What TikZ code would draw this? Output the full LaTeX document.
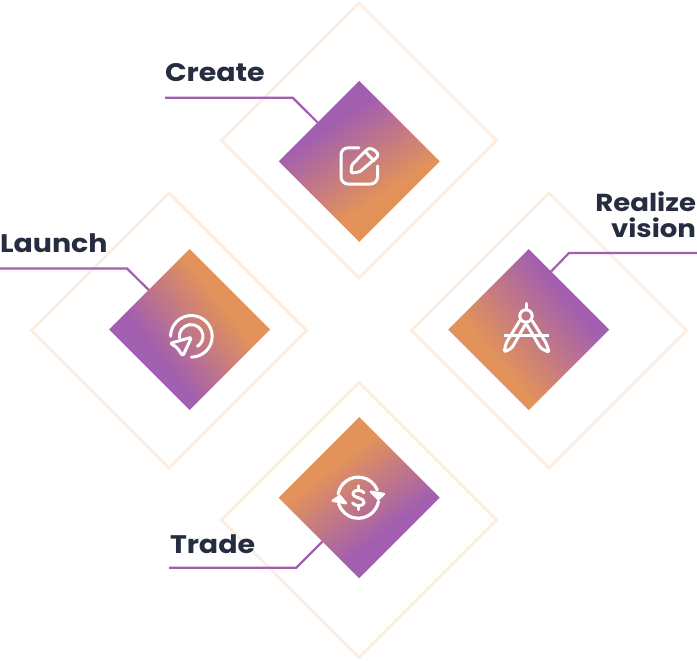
\documentclass[tikz,border=0pt]{standalone}
\usepackage{fontspec}
\setmainfont{Poppins}[FakeStretch=1.12]
\usetikzlibrary{shapes.geometric}
\definecolor{halo}{HTML}{FDEEE2}
\definecolor{plum}{HTML}{A25FAF}
\definecolor{amber}{HTML}{E39359}
\definecolor{ink}{HTML}{262D40}
\tikzset{
  x=1pt,y=1pt,
  outerdia/.style={diamond,shape aspect=1,draw=halo,line width=3pt,minimum width=275pt,minimum height=275pt,inner sep=0pt,outer sep=0pt},
  innerdia/.style={diamond,shape aspect=1,minimum width=161pt,minimum height=161pt,inner sep=0pt,outer sep=0pt},
  leader/.style={draw=plum,line width=2.2pt,line join=miter},
  labeltext/.style={text=ink,font=\fontsize{25.4}{26}\selectfont\bfseries,inner sep=0pt,outer sep=0pt},
  smalllabel/.style={labeltext,font=\fontsize{24.6}{26}\selectfont\bfseries},
  iconline/.style={draw=white,line width=3pt,line cap=round,line join=round},
}
% name, x, y (image), angle, top colour, bottom colour, low, high
\newcommand{\gradientdia}[8]{%
  \node[innerdia] (#1) at (#2,-#3) {};
  \begin{scope}
    \clip (#1.north) -- (#1.east) -- (#1.south) -- (#1.west) -- cycle;
    \begin{scope}[transform canvas={shift={(#2,-#3)},rotate=#4}]
      \fill[#6] (-160,-160) rectangle (160,#7+0.5);
      \fill[#5] (-160,#8-0.5) rectangle (160,160);
      \shade[top color=#5,bottom color=#6] (-160,#7) rectangle (160,#8);
    \end{scope}
  \end{scope}
}
\begin{document}
\begin{tikzpicture}
\useasboundingbox (0,0) rectangle (697,-661);
% outer frames
\node[outerdia] (haloCreate) at (359,-140.5) {};
\node[outerdia] (haloLaunch) at (169,-330.5) {};
\node[outerdia] (haloVision) at (549,-330.5) {};
\node[outerdia] (haloTrade) at (359,-520) {};
% gradient squares
\gradientdia{create}{359.2}{161.3}{33}{plum}{amber}{-42}{46}
\gradientdia{launch}{189.7}{329.5}{-52}{amber}{plum}{-40}{42}
\gradientdia{vision}{528.7}{329.7}{-50}{plum}{amber}{-45}{50}
\gradientdia{trade}{359.2}{497.7}{37}{amber}{plum}{-42}{42}
% leaders
\coordinate (createEnd) at (165,-97.7);
\coordinate (createBend) at (292.7,-97.7);
\coordinate (launchEnd) at (0,-268.5);
\coordinate (launchBend) at (127,-268.5);
\coordinate (visionEnd) at (697,-253);
\coordinate (visionBend) at (569,-253);
\coordinate (tradeEnd) at (169,-567.7);
\coordinate (tradeBend) at (296.3,-567.7);
\draw[leader] (createEnd) -- (createBend) -- (create.137);
\draw[leader] (launchEnd) -- (launchBend) -- (launch.136);
\draw[leader] (visionEnd) -- (visionBend) -- (vision.69);
\draw[leader] (tradeEnd) -- (tradeBend) -- (trade.230);
% labels
\node[labeltext,anchor=base west] (labelCreate) at (165,-82) {Create};
\node[labeltext,anchor=base west] (labelLaunch) at (0,-252) {Launch};
\node[labeltext,anchor=base west] (labelTrade) at (170,-553.3) {Trade};
\node[smalllabel,anchor=base east] (labelRealize) at (696,-211) {Realize};
\node[smalllabel,anchor=base east] (labelVision) at (696,-237.3) {vision};
% edit icon
\draw[iconline] (359,-147.8) -- (348,-147.8) arc[start angle=90,end angle=180,radius=7] -- (341,-177) arc[start angle=180,end angle=270,radius=7] -- (370.5,-184) arc[start angle=270,end angle=360,radius=7] -- (377.5,-166);
\draw[iconline,rounded corners=1.6pt] (351,-173.3) -- (351.7,-165) -- (367,-149.5) -- (370.5,-148) -- (377,-152) -- (378.3,-156) -- (360,-171.7) -- cycle;
\draw[iconline] (365.7,-152.3) -- (374,-160.7);
% launch icon
\draw[iconline] (170.6,-336.3) arc[start angle=180,end angle=-90,radius=20.8];
\draw[iconline] (179.5,-338) arc[start angle=188,end angle=-58,radius=11.8];
\draw[iconline,rounded corners=2pt] (170.2,-343.3) -- (191.5,-337.3) -- (182.8,-356) -- (176.9,-347.3) -- cycle;
% compass icon
\draw[iconline] (526,-303.5) -- (526,-309.5);
\draw[iconline] (526,-316) circle[radius=6.2];
\draw[iconline,line cap=butt] (504,-335) -- (549.3,-335);
\draw[iconline,rounded corners=2pt] (519.6,-321) -- (505.9,-343.3) -- (504.2,-352) -- (511.7,-348.3) -- (518.3,-336.7) -- (526,-323.5) -- (534,-336.7) -- (540.7,-348.3) -- (549.2,-352.4) -- (546.3,-343.3) -- (532.4,-321);
% trade icon
\draw[iconline,line width=3.2pt] (338.1,-494.1) arc[start angle=170,end angle=22,radius=20.5];
\draw[iconline,line width=3.2pt] (378.5,-501.3) arc[start angle=-10,end angle=-163,radius=20.5];
\fill[white,draw=white,line width=2.4pt,line join=round] (370.8,-491.7) -- (384,-494) -- (378.3,-499.3) -- cycle;
\fill[white,draw=white,line width=2.4pt,line join=round] (332.7,-500.7) -- (340,-496) -- (346,-503.3) -- cycle;
\draw[iconline,line width=3pt] (364,-492.8) .. controls (362,-489.5) and (353,-489) .. (352.8,-493.8) .. controls (352.6,-498) and (364.3,-497.5) .. (364.2,-502.3) .. controls (364,-506.8) and (354.5,-506.5) .. (352.6,-503);
\draw[iconline,line width=3pt] (358.3,-485.8) -- (358.3,-489.5);
\draw[iconline,line width=3pt] (358.3,-506) -- (358.3,-509.6);
\end{tikzpicture}
\end{document}
